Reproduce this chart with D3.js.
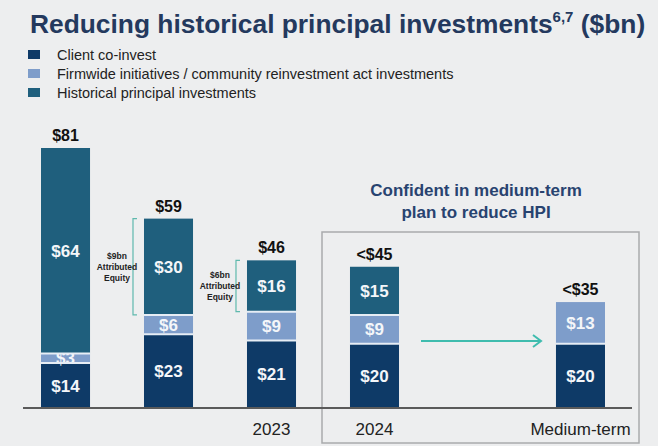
<!DOCTYPE html>
<html><head><meta charset="utf-8">
<script src="https://cdn.jsdelivr.net/npm/d3@7"></script>
<style>
html,body{margin:0;padding:0;background:#edeeef;}
svg{display:block;font-family:"Liberation Sans",Arial,sans-serif;}
</style></head>
<body><svg id="c" width="658" height="446"></svg>
<script>
// ---- data ----
const slots = ["p1", "p2", "2023", "2024", "gap", "Medium-term"];
const tickLabels = ["", "", "2023", "2024", "", "Medium-term"];
const barSlots = ["p1", "p2", "2023", "2024", "Medium-term"];
const clientCoInvest = [14, 23, 21, 20, 20];
const firmwide = [3, 6, 9, 9, 13];
const historicalPI = [64, 30, 16, 15, 0];
const totalLabels = ["$81", "$59", "$46", "<$45", "<$35"];
const seriesNames = ["Client co-invest", "Firmwide initiatives / community reinvestment act investments", "Historical principal investments"];
const seriesColors = ["#0e3a67", "#7e9dca", "#1f5f7d"];
const equityNotes = [{slot: "p2", text: ["$9bn", "Attributed", "Equity"]}, {slot: "2023", text: ["$6bn", "Attributed", "Equity"]}];

const svg = d3.select("#c");
const series = [clientCoInvest, firmwide, historicalPI];

// title
const title = svg.append("text").attr("x", 30).attr("y", 33)
  .attr("fill", "#24395e").attr("font-weight", "bold").attr("font-size", 27);
title.append("tspan").text("Reducing historical principal investments");
title.append("tspan").attr("font-size", 15).attr("dy", -11).text("6,7");
title.append("tspan").attr("dy", 11).text(" ($bn)");
const tw = title.node().getComputedTextLength();
const fs = 27 * 615 / tw;
title.attr("font-size", fs);

// legend
const lg = svg.append("g");
seriesNames.forEach((n, i) => {
  lg.append("rect").attr("x", 28).attr("y", 50 + i * 19).attr("width", 12).attr("height", 9).attr("fill", seriesColors[i]);
  lg.append("text").attr("x", 57).attr("y", 60 + i * 19).attr("font-size", 14.5).attr("fill", "#222").text(n);
});

// scales
const x = d3.scaleBand().domain(slots).range([41, 605]).paddingInner(0.524).paddingOuter(0);
const y = d3.scaleLinear().domain([0, 81]).range([408, 148]);

// stacks
const rows = barSlots.map((s, i) => ({slot: s, c: clientCoInvest[i], f: firmwide[i], h: historicalPI[i]}));
const stack = d3.stack().keys(["c", "f", "h"])(rows);

// box for medium-term
svg.append("rect").attr("x", 322).attr("y", 232).attr("width", 317).attr("height", 211)
  .attr("fill", "none").attr("stroke", "#a9abad").attr("stroke-width", 1.5);

stack.forEach((layer, k) => {
  const g = svg.append("g");
  layer.forEach((d, i) => {
    if (d[1] - d[0] <= 0) return;
    g.append("rect").attr("x", x(d.data.slot)).attr("width", x.bandwidth())
      .attr("y", y(d[1])).attr("height", y(d[0]) - y(d[1])).attr("fill", seriesColors[k]);
    g.append("text").attr("x", x(d.data.slot) + x.bandwidth() / 2)
      .attr("y", (y(d[0]) + y(d[1])) / 2 + 6).attr("text-anchor", "middle")
      .attr("font-size", 17).attr("font-weight", "bold").attr("fill", "#f4f6f9")
      .text("$" + (d[1] - d[0]));
  });
});
// separators
stack.slice(0, 2).forEach((layer) => {
  layer.forEach((d, i) => {
    const top = d3.sum(series, s => s[i]);
    if (d[1] >= top) return;
    svg.append("line").attr("x1", x(d.data.slot)).attr("x2", x(d.data.slot) + x.bandwidth())
      .attr("y1", y(d[1])).attr("y2", y(d[1])).attr("stroke", "#e6edf5").attr("stroke-width", 2);
  });
});

// totals
rows.forEach((r, i) => {
  svg.append("text").attr("x", x(r.slot) + x.bandwidth() / 2).attr("y", y(r.c + r.f + r.h) - 7)
    .attr("text-anchor", "middle").attr("font-size", 16).attr("font-weight", "bold").attr("fill", "#111")
    .text(totalLabels[i]);
});

// baseline + x labels
svg.append("line").attr("x1", 23).attr("x2", 632).attr("y1", y(0)).attr("y2", y(0)).attr("stroke", "#5a5a5a").attr("stroke-width", 2);
const xAxis = d3.axisBottom(x).tickSize(0).tickPadding(0).tickFormat((d, i) => tickLabels[i]);
const ax = svg.append("g").attr("transform", `translate(0,${y(0) + 15})`).call(xAxis);
ax.select(".domain").remove();
ax.selectAll("text").attr("font-size", 17).attr("fill", "#222").attr("font-family", "Liberation Sans, Arial, sans-serif");

// attributed equity brackets
equityNotes.forEach(n => {
  const i = barSlots.indexOf(n.slot);
  const yt = y(clientCoInvest[i] + firmwide[i] + historicalPI[i]);
  const yb = y(clientCoInvest[i] + firmwide[i]);
  const bx = x(n.slot) - 11;
  svg.append("path").attr("d", `M${bx + 4},${yt} H${bx} V${yb} H${bx + 4}`)
    .attr("fill", "none").attr("stroke", "#5fb9ad").attr("stroke-width", 1.2);
  const cx = bx - 16;
  const cy = (yt + yb) / 2;
  n.text.forEach((t, j) => {
    svg.append("text").attr("x", cx).attr("y", cy - 8 + j * 11).attr("text-anchor", "middle")
      .attr("font-size", 8.5).attr("font-weight", "bold").attr("fill", "#222").text(t);
  });
});

// confident text
const ct = svg.append("text").attr("text-anchor", "middle").attr("font-size", 17).attr("font-weight", "bold").attr("fill", "#284370");
ct.append("tspan").attr("x", 476).attr("y", 196).text("Confident in medium-term");
ct.append("tspan").attr("x", 476).attr("y", 218).text("plan to reduce HPI");

// arrow
const ay = 341;
svg.append("line").attr("x1", 421).attr("x2", 541).attr("y1", ay).attr("y2", ay).attr("stroke", "#3fbcae").attr("stroke-width", 2);
svg.append("path").attr("d", `M533,${ay - 6} L541,${ay} L533,${ay + 6}`).attr("fill", "none").attr("stroke", "#3fbcae").attr("stroke-width", 2);
</script>
</body></html>
